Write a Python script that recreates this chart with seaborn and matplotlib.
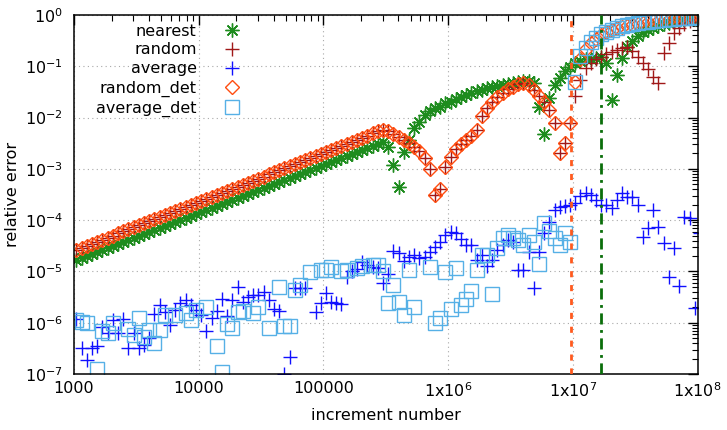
import numpy as np
import pandas as pd
import matplotlib
matplotlib.use("Agg")
import matplotlib.pyplot as plt
import seaborn as sns
from matplotlib.ticker import LogLocator, NullFormatter, FixedLocator, FixedFormatter

nan = np.nan

# increment checkpoints (24 per decade)
increments = np.logspace(3.02, 8.02, 121)

# log10 of relative error, one value per checkpoint
nearest_exp = [
    -4.78, -4.74, -4.70, -4.66, -4.62, -4.58, -4.55, -4.51, -4.47, -4.43,
    -4.39, -4.35, -4.31, -4.27, -4.23, -4.19, -4.15, -4.11, -4.08, -4.04,
    -4.00, -3.96, -3.92, -3.88, -3.84, -3.80, -3.76, -3.72, -3.68, -3.65,
    -3.61, -3.57, -3.53, -3.49, -3.45, -3.41, -3.37, -3.33, -3.29, -3.25,
    -3.21, -3.17, -3.14, -3.10, -3.06, -3.02, -2.98, -2.94, -2.90, -2.86,
    -2.82, -2.78, -2.74, -2.71, -2.67, -2.63, -2.59, -2.55, -2.51, -2.47,
    -2.57, -2.92, -3.36, -2.67, -2.44, -2.21, -2.08, -1.95, -1.88, -1.82,
    -1.79, -1.72, -1.69, -1.64, -1.60, -1.56, -1.53, -1.49, -1.46, -1.43,
    -1.40, -1.38, -1.36, -1.35, -1.32, -1.30, -1.29, -1.28, -1.32, -1.80,
    -2.33, -1.62, -1.36, -1.22, -1.10, -1.02, -0.93, -0.90, -0.86, -0.86,
    -0.83, -0.82, -0.93, -1.65, -1.17, -0.84, -0.63, -0.50, -0.41, -0.34,
    -0.29, -0.25, -0.21, -0.18, -0.15, -0.13, -0.11, -0.095, -0.08, -0.07, -0.06]

random_det_exp = [
    -4.58, -4.54, -4.50, -4.46, -4.42, -4.38, -4.34, -4.30, -4.26, -4.22,
    -4.18, -4.14, -4.10, -4.06, -4.02, -3.98, -3.94, -3.90, -3.86, -3.82,
    -3.78, -3.74, -3.70, -3.66, -3.62, -3.58, -3.54, -3.51, -3.47, -3.43,
    -3.39, -3.35, -3.31, -3.27, -3.23, -3.19, -3.15, -3.11, -3.07, -3.03,
    -2.99, -2.95, -2.91, -2.87, -2.83, -2.79, -2.75, -2.71, -2.67, -2.63,
    -2.59, -2.55, -2.51, -2.47, -2.43, -2.39, -2.35, -2.31, -2.26, -2.24,
    -2.27, -2.32, -2.38, -2.44, -2.50, -2.58, -2.66, -2.79, -3.01, -3.51,
    -3.40, -2.97, -2.76, -2.62, -2.51, -2.44, -2.36, -2.24, -1.97, -1.81,
    -1.69, -1.60, -1.53, -1.45, -1.40, -1.35, -1.33, -1.36, -1.46, -1.58,
    -1.69, -1.85, -2.11, -2.70, -2.50, -2.10, -1.30, -0.86, -0.66, -0.54,
    -0.46, -0.39, -0.34, -0.30, -0.26, -0.23, -0.21, -0.19, -0.17, -0.15,
    -0.135, -0.12, -0.11, -0.10, -0.09, -0.08, -0.07, -0.06, -0.055, -0.05, -0.045]

# random follows random_det up to checkpoint 95, then this tail
random_tail_exp = [
    -1.58, -1.26, -1.04, -0.94, -0.86, -0.81, -0.76, -0.72, -0.68, -0.65,
    -0.63, -0.70, -0.82, -0.93, -1.05, -1.20, -1.33, -0.75, -0.55, -0.36,
    -0.25, -0.17, -0.12, -0.08, -0.06]

average_exp = [
    -5.93, -6.50, -6.73, -6.50, -6.45, -6.08, -6.20, -5.95, -6.20, -5.93,
    -6.50, -6.20, -6.50, -6.43, -6.30, -5.83, -5.65, -5.80, -6.04, -5.75,
    -5.62, -5.56, -5.65, -5.75, -5.85, -6.17, -5.91, -5.78, -5.54, -5.87,
    -5.56, -5.30, -5.59, -5.49, -5.46, -5.46, -5.41, -5.56, -5.74, -5.78,
    -7.00, -6.66, -5.33, -5.33, -5.33, nan, -5.80, -5.62, -5.43, -5.59,
    -5.61, -5.63, -5.10, -5.00, -4.96, -4.81, -4.87, -4.91, -4.94, -5.22,
    -5.05, -4.61, -4.65, -4.79, -4.71, -4.68, -4.74, -4.71, -4.63, -4.52,
    -4.42, -4.28, -4.24, -4.26, -4.37, -4.48, -4.48, -4.78, -4.68, -4.89,
    -4.78, -4.58, -4.48, -4.39, -4.42, -4.97, -4.97, -4.63, -5.33, -4.63,
    -4.26, -4.03, -3.80, -3.74, -3.72, -3.70, -3.66, -3.53, -3.48, -3.51,
    -3.61, -3.70, -3.70, -3.77, -3.61, -3.48, -3.54, -3.55, -3.70, -4.32,
    -4.16, -3.81, -4.13, -4.45, -5.10, -4.55, -5.28, -3.93, -3.96, -5.72, -4.26]

average_det_exp = [
    -5.95, -5.98, -6.01, nan, -6.91, -6.17, -6.20, -6.01, nan, nan,
    -6.13, -6.24, -5.91, -6.27, -6.14, -6.40, -6.14, -5.85, nan, -5.85,
    nan, -5.81, -5.95, -5.75, nan, -5.69, nan, -6.45, -6.97, -6.02,
    -6.11, -5.80, -5.78, nan, -5.81, -5.69, nan, -6.10, nan, -5.30,
    -6.06, -6.06, -5.36, -5.27, nan, -5.02, nan, -4.97, -4.97, -4.91,
    nan, -5.00, -4.97, nan, -4.94, -4.89, nan, -4.87, -4.87, -5.00,
    -5.62, -5.26, -5.60, -5.85, -4.97, -5.69, nan, nan, -4.92, -6.01,
    -5.91, -5.02, -5.74, -4.94, -5.65, -5.54, -5.39, -4.98, -4.68, -4.68,
    -5.44, -4.55, -4.35, -4.29, -4.35, -4.39, -4.48, -4.28, -4.42, -4.85,
    -4.06, -4.22, -4.35, -4.48, -4.26, -4.42, -1.30, -0.80, -0.64, -0.52,
    -0.44, -0.38, -0.33, -0.29, -0.25, -0.22, -0.20, -0.18, -0.16, -0.145,
    -0.13, -0.115, -0.105, -0.095, -0.085, -0.075, -0.065, -0.055, -0.05, -0.045, -0.04]

random_exp = random_det_exp[:96] + random_tail_exp

# vertical marker lines
orange_line_x = 9.6e6
green_line_x = 2 ** 24

series = [
    ("nearest", nearest_exp, "#1e8c1e", (8, 2, 0), 10, "full"),
    ("random", random_exp, "#a01818", "+", 10, "full"),
    ("average", average_exp, "#1010ff", "+", 10, "full"),
    ("random_det", random_det_exp, "#ff4d10", "D", 7, "none"),
    ("average_det", average_det_exp, "#56b0e6", "s", 9.5, "none"),
]

sns.set_style("white")
plt.rcParams["font.family"] = ["DejaVu Sans"]
plt.rcParams["font.size"] = 11.5
plt.rcParams["text.color"] = "black"
plt.rcParams["axes.labelcolor"] = "black"
plt.rcParams["xtick.color"] = "black"
plt.rcParams["ytick.color"] = "black"

fig = plt.figure(figsize=(7.27, 4.30), dpi=100)
ax = fig.add_axes([74 / 727, 1 - 374 / 430, (697.5 - 74) / 727, (374 - 15) / 430])
ax.set_xscale("log")
ax.set_yscale("log")

for name, vals, col, mk, ms, fill in series:
    df = pd.DataFrame({"x": increments, "y": 10.0 ** np.array(vals, dtype=float)}).dropna()
    sns.lineplot(data=df, x="x", y="y", ax=ax, label=name, color=col, marker=mk,
                 linestyle="", markersize=ms, markeredgewidth=1.0,
                 markerfacecolor=col if fill == "full" else "none",
                 markeredgecolor=col, estimator=None, sort=False)

ax.axvline(orange_line_x, color="#ff5a1e", lw=2.0, linestyle=(0, (2.2, 2.8)), zorder=5)
ax.axvline(green_line_x, color="#0a6e0a", lw=2.0, linestyle=(0, (4, 2, 1, 2)), zorder=5)

ax.set_xlim(1e3, 1e8)
ax.set_ylim(1e-7, 1)

xt = [1e3, 1e4, 1e5, 1e6, 1e7, 1e8]
xl = ["1000", "10000", "100000", "1x10$^{6}$", "1x10$^{7}$", "1x10$^{8}$"]
ax.xaxis.set_major_locator(FixedLocator(xt))
ax.xaxis.set_major_formatter(FixedFormatter(xl))
yt = [10.0 ** e for e in range(-7, 1)]
yl = ["$10^{%d}$" % e for e in range(-7, 1)]
ax.yaxis.set_major_locator(FixedLocator(yt))
ax.yaxis.set_major_formatter(FixedFormatter(yl))
for a in (ax.xaxis, ax.yaxis):
    a.set_minor_locator(LogLocator(base=10, subs=np.arange(2, 10), numticks=20))
    a.set_minor_formatter(NullFormatter())

ax.tick_params(which="both", direction="in", top=True, right=True, color="black",
               labelcolor="black")
ax.tick_params(which="major", length=7, width=1, labelsize=11.5)
ax.tick_params(axis="x", which="major", pad=5)
ax.tick_params(axis="y", which="major", pad=8)
ax.tick_params(which="minor", length=4, width=0.8)
ax.grid(True, which="major", color="#a8a8a8", linestyle=(0, (1, 3)), linewidth=0.8)
for s in ax.spines.values():
    s.set_color("black")
    s.set_linewidth(1.1)

ax.set_xlabel("increment number", fontsize=11.5, labelpad=6, color="black")
ax.set_ylabel("relative error", fontsize=11.5, labelpad=3, color="black")

leg = ax.legend(loc="upper left", bbox_to_anchor=(96 / 727, 1 - 23.5 / 430),
                bbox_transform=fig.transFigure, frameon=False, markerfirst=False,
                handlelength=2.4, handletextpad=1.0, labelspacing=0.25,
                borderpad=0, borderaxespad=0, fontsize=11.5, labelcolor="black")

fig.savefig("out.png", dpi=100)
